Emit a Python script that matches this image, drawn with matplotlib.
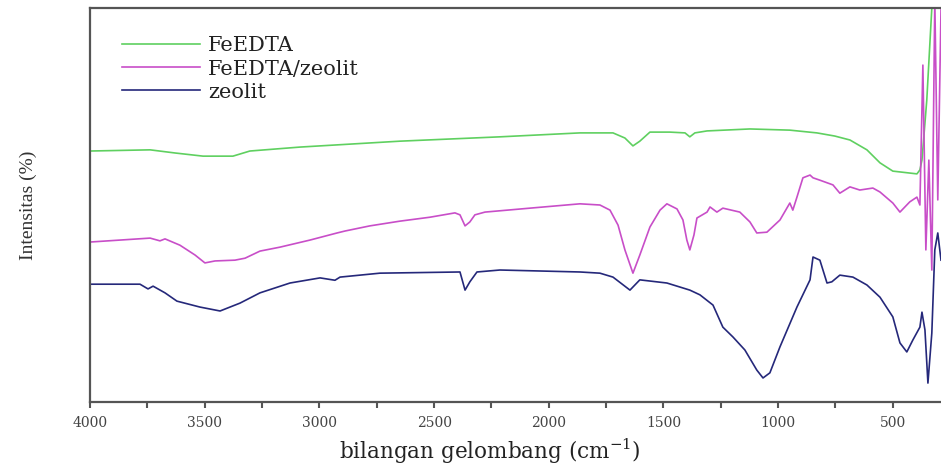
import numpy as np
import matplotlib
matplotlib.use('Agg')
import matplotlib.pyplot as plt
from matplotlib.ticker import MultipleLocator, NullLocator

# FTIR spectra (wavenumber cm-1, intensity in arbitrary %)
wn_feedta = [4000, 3738, 3629, 3507, 3377, 3303, 3085, 2649, 2213, 1864, 1720, 1668,
             1633, 1603, 1559, 1472, 1406, 1385, 1363, 1310, 1123, 949, 831, 753,
             687, 613, 556, 500, 395, 382, 373, 352, 330, 317]
i_feedta = [63.7, 64.0, 63.2, 62.4, 62.4, 63.7, 64.7, 66.2, 67.3, 68.3, 68.3, 67.0,
            65.0, 66.2, 68.5, 68.5, 68.3, 67.3, 68.3, 68.8, 69.3, 69.0, 68.3, 67.5,
            66.5, 64.0, 60.7, 58.6, 57.9, 58.9, 61.4, 76.6, 100.0, 105.0]

wn_fez = [4000, 3869, 3738, 3695, 3673, 3608, 3542, 3499, 3455, 3368, 3324, 3259,
          3172, 3041, 2923, 2888, 2780, 2649, 2518, 2409, 2387, 2365, 2344, 2322,
          2278, 2082, 1864, 1777, 1733, 1698, 1668, 1633, 1603, 1559, 1515, 1485,
          1441, 1415, 1398, 1385, 1367, 1354, 1310, 1297, 1267, 1241, 1167, 1123,
          1093, 1049, 992, 949, 936, 918, 892, 861, 848, 818, 761, 731, 687, 644,
          587, 556, 500, 469, 426, 395, 382, 369, 356, 343, 330, 317, 304, 290]
i_fez = [40.6, 41.1, 41.6, 40.9, 41.4, 39.8, 37.3, 35.3, 35.8, 36.0, 36.5, 38.3,
         39.3, 41.1, 42.9, 43.4, 44.7, 45.9, 46.9, 48.0, 47.5, 44.7, 45.7, 47.5,
         48.2, 49.2, 50.3, 50.0, 48.7, 44.9, 38.6, 32.7, 37.3, 44.4, 48.7, 50.3,
         49.0, 46.2, 41.1, 38.6, 42.4, 46.7, 48.2, 49.5, 48.2, 49.2, 48.2, 45.7,
         42.9, 43.1, 46.2, 50.5, 48.7, 52.0, 56.9, 57.6, 56.9, 56.3, 55.1, 53.0,
         54.6, 53.8, 54.3, 53.3, 50.5, 48.2, 50.8, 52.0, 50.0, 85.5, 38.6, 61.4,
         33.5, 102.0, 51.3, 99.5]

wn_zeo = [4000, 3782, 3747, 3725, 3673, 3621, 3521, 3433, 3346, 3259, 3128, 2997,
          2932, 2910, 2736, 2387, 2365, 2344, 2313, 2213, 1864, 1777, 1720, 1646,
          1603, 1485, 1385, 1341, 1284, 1241, 1197, 1145, 1093, 1066, 1036, 992,
          918, 861, 848, 818, 787, 766, 731, 674, 613, 556, 500, 469, 439, 413,
          382, 373, 360, 347, 330, 317, 304, 290]
i_zeo = [29.9, 29.9, 28.7, 29.4, 27.7, 25.6, 24.1, 23.1, 25.1, 27.7, 30.2, 31.5,
         30.9, 31.7, 32.7, 33.0, 28.4, 30.5, 33.0, 33.5, 33.0, 32.7, 31.7, 28.4,
         31.0, 30.2, 28.4, 27.2, 24.6, 19.0, 16.5, 13.2, 8.1, 6.1, 7.4, 14.0,
         24.1, 31.0, 36.8, 36.0, 30.2, 30.5, 32.2, 31.7, 29.7, 26.6, 21.6, 15.0,
         12.7, 15.7, 19.0, 22.8, 18.3, 4.8, 17.5, 38.6, 42.9, 36.0]

labels = ['FeEDTA', 'FeEDTA/zeolit', 'zeolit']
colors = ['#5fd060', '#c84ec8', '#25287a']

plt.rcParams['mathtext.fontset'] = 'dejavuserif'

fig = plt.figure(figsize=(9.41, 4.72), dpi=100, facecolor='w')
ax = fig.add_axes([90 / 941, 70 / 472, 851 / 941, 394 / 472])

ax.plot(wn_feedta, i_feedta, color=colors[0], lw=1.2, label=labels[0])
ax.plot(wn_fez, i_fez, color=colors[1], lw=1.2, label=labels[1])
ax.plot(wn_zeo, i_zeo, color=colors[2], lw=1.2, label=labels[2])

ax.set_xlim(4000, 290)
ax.set_ylim(0, 100)
ax.xaxis.set_major_locator(MultipleLocator(500))
ax.xaxis.set_minor_locator(MultipleLocator(250))
ax.yaxis.set_major_locator(NullLocator())
ax.tick_params(axis='x', which='both', direction='out', length=4, width=1.5,
               color='#555555', labelsize=10, labelcolor='#444444', pad=6)
for lab in ax.get_xticklabels():
    lab.set_family('DejaVu Serif')

for side in ['left', 'bottom', 'top']:
    ax.spines[side].set_color('#555555')
    ax.spines[side].set_linewidth(1.6)
ax.spines['right'].set_visible(False)

ax.set_xlabel('bilangan gelombang (cm$^{-1}$)', family='DejaVu Serif', fontsize=15.5,
              color='#222222')
ax.xaxis.set_label_coords(0.47, -0.088)
ax.set_ylabel('Intensitas (%)', family=['Liberation Sans Narrow', 'Liberation Serif'],
              fontsize=14, color='#333333', labelpad=38)

leg = ax.legend(loc='upper left', bbox_to_anchor=(112 / 941, 1 - 26 / 472),
                bbox_transform=fig.transFigure, frameon=False, borderpad=0,
                handlelength=3.7, handletextpad=0.4, labelspacing=0.2,
                prop={'family': 'DejaVu Serif', 'size': 15})
for t in leg.get_texts():
    t.set_color('#222222')

plt.savefig('out.png', dpi=100)
